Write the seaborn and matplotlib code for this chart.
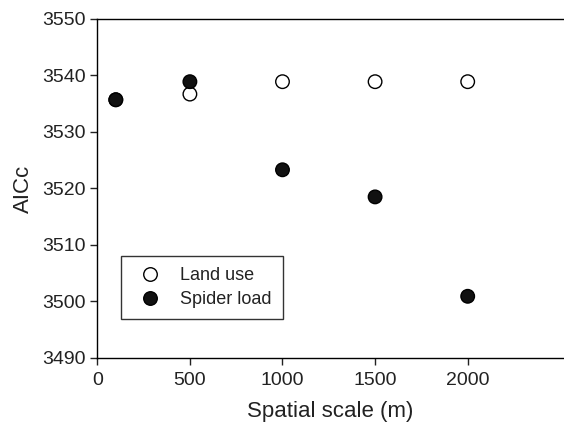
import matplotlib
matplotlib.use("Agg")
import matplotlib.pyplot as plt
import seaborn as sns
import pandas as pd

scales = [100, 500, 1000, 1500, 2000]
land_use = [3535.7, 3536.7, 3538.9, 3538.9, 3538.9]
spider_load = [3535.7, 3538.9, 3523.3, 3518.5, 3500.9]

df = pd.DataFrame({
    "scale": scales * 2,
    "aicc": land_use + spider_load,
    "model": ["Land use"] * len(scales) + ["Spider load"] * len(scales),
})

sns.set_style("ticks")
plt.rcParams["font.family"] = ["Liberation Sans", "DejaVu Sans"]

fig = plt.figure(figsize=(5.64, 4.22), dpi=100)
ax = fig.add_axes([0.1725, 0.152, 0.8275, 0.803])

sns.scatterplot(data=df, x="scale", y="aicc", hue="model", style="model",
                palette={"Land use": "white", "Spider load": "#111111"},
                markers={"Land use": "o", "Spider load": "o"},
                edgecolor="black", linewidth=1.0, s=95, ax=ax, zorder=3)

ax.set_xlim(0, 2520)
ax.set_ylim(3490, 3550)
ax.set_xticks([0, 500, 1000, 1500, 2000])
ax.set_yticks(range(3490, 3551, 10))
ax.tick_params(direction="out", length=5, width=1, labelsize=14, colors="#222222")
ax.tick_params(axis="x", pad=5)
for name, sp in ax.spines.items():
    sp.set_color("black")
    sp.set_linewidth(1)
ax.spines["right"].set_visible(False)
ax.spines["top"].set_visible(True)
ax.set_xlabel("Spatial scale (m)", fontsize=16, color="#222222", labelpad=9)
ax.set_ylabel("AICc", fontsize=16, color="#222222", labelpad=6)

leg = ax.legend(loc="lower left", bbox_to_anchor=(0.05, 0.114), frameon=True,
                fancybox=False, edgecolor="black", fontsize=13, title=None,
                borderpad=0.6, handletextpad=0.7, labelspacing=0.4,
                handlelength=2.0, borderaxespad=0, markerscale=1.0)
leg.get_frame().set_linewidth(1)
for h in leg.legend_handles:
    try:
        h.set_markeredgecolor("black")
    except AttributeError:
        h.set_edgecolor("black")
for t in leg.get_texts():
    t.set_color("#222222")

fig.savefig("out.png", dpi=100)
